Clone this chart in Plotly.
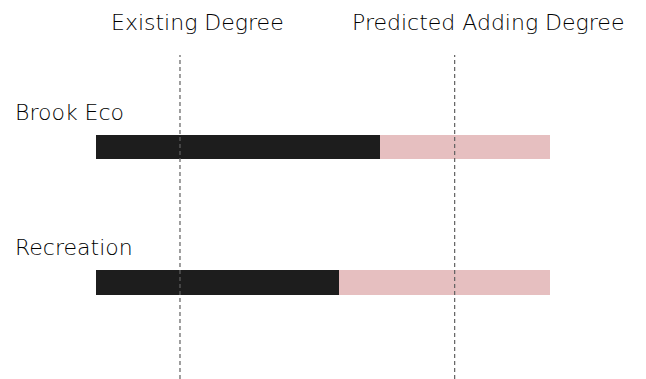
import plotly.graph_objects as go

# Degree scores per category (scale 0-10)
categories = ["Brook Eco", "Recreation"]
existing = [6.25, 5.35]
predicted_adding = [3.75, 4.65]
headers = ["Existing Degree", "Predicted Adding Degree"]
marker_lines = [1.85, 7.9]

FONT = dict(family="DejaVu Sans", size=22, color="#000000", weight=200)

fig = go.Figure()
fig.add_trace(go.Bar(
    y=categories, x=existing, orientation="h", name=headers[0],
    marker=dict(color="#1d1d1d", line=dict(width=0)), width=0.18,
))
fig.add_trace(go.Bar(
    y=categories, x=predicted_adding, orientation="h", name=headers[1],
    marker=dict(color="#e6bfc0", line=dict(width=0)), width=0.18,
))

# dashed reference lines for the two columns
for xv in marker_lines:
    fig.add_shape(type="line", x0=xv, x1=xv, xref="x", yref="paper", y0=0, y1=0.855,
                  line=dict(color="#606060", width=1.2, dash="4px,3px"), layer="above")

# category labels above each bar
for cat in categories:
    fig.add_annotation(x=0, xref="paper", xshift=13, y=cat, yref="y", yshift=35,
                       text=cat, showarrow=False, xanchor="left", yanchor="middle",
                       font=FONT)

# column headers
for xv, txt in zip([197 / 646, 488 / 646], headers):
    fig.add_annotation(x=xv, xref="paper", y=1 - 23 / 379, yref="paper", text=txt,
                       showarrow=False, xanchor="center", yanchor="middle",
                       font=FONT)

fig.update_layout(
    barmode="stack",
    width=646, height=379,
    margin=dict(l=0, r=0, t=0, b=0),
    plot_bgcolor="white", paper_bgcolor="white",
    showlegend=False,
    xaxis=dict(range=[-96 / 45.4, 550 / 45.4], visible=False),
    yaxis=dict(range=[(379 - 147) / 135.5, -147 / 135.5], visible=False,
               categoryorder="array", categoryarray=categories),
)

fig.write_html("out.html")
